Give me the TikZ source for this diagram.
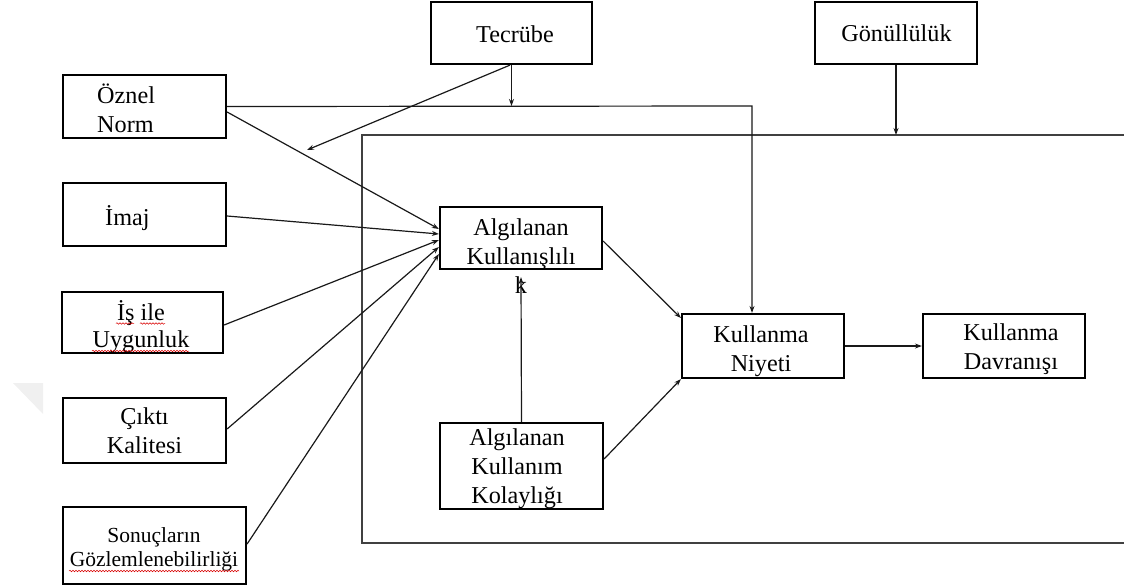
\documentclass[tikz,border=0pt]{standalone}
\usepackage{fontspec}
\setmainfont{Liberation Serif}
\usetikzlibrary{arrows.meta,decorations.pathmorphing}
\newcommand{\mylines}[2][c]{\begin{tabular}[t]{@{}#1@{}}#2\end{tabular}}
\begin{document}
\begin{tikzpicture}[x=1pt,y=-1pt,
  box/.style={draw=black, line width=2.2pt, inner sep=0pt},
  txt/.style={inner sep=0pt, anchor=base, font=\fontsize{24.2}{29}\selectfont},
  smalltxt/.style={inner sep=0pt, anchor=base, font=\fontsize{21.5}{24.5}\selectfont},
  conn/.style={line width=1.2pt, draw=black!90, -{Stealth[length=7pt,width=5pt]}},
  frame/.style={line width=1.5pt, draw=black!75},
  squiggle/.style={draw=red!85!black, line width=0.5pt, decorate, decoration={snake, amplitude=0.8pt, segment length=3pt}}]
\useasboundingbox (0,0) rectangle (1124,587);
% watermark
\fill[gray!12] (13,383) -- (43,383) -- (43,414) -- cycle;
% frame
\coordinate (ftl) at (362,135);
\coordinate (ftr) at (1124,135);
\coordinate (fbl) at (362,543);
\coordinate (fbr) at (1124,543);
\draw[frame] (ftr) -- (ftl) -- (fbl) -- (fbr);
% boxes
\node[box, minimum width=163pt, minimum height=63pt] (oz) at (144.5,106.5) {};
\node[box, minimum width=163pt, minimum height=63pt] (im) at (144.5,214.5) {};
\node[box, minimum width=161pt, minimum height=61pt] (is) at (142.5,322.5) {};
\node[box, minimum width=163pt, minimum height=65pt] (ck) at (144.5,430.5) {};
\node[box, minimum width=183pt, minimum height=77pt] (sg) at (154.5,545.5) {};
\node[box, minimum width=161pt, minimum height=62pt] (tc) at (511.5,33) {};
\node[box, minimum width=162pt, minimum height=62pt] (gn) at (896,33) {};
\node[box, minimum width=162pt, minimum height=62pt] (ak) at (521,238) {};
\node[box, minimum width=163pt, minimum height=86pt] (kk) at (521.5,466) {};
\node[box, minimum width=162pt, minimum height=64pt] (kn) at (763,346) {};
\node[box, minimum width=162pt, minimum height=64pt] (kd) at (1004,346) {};
% texts
\node[txt, anchor=base west] (tOz) at (97,103) {\mylines[l]{Öznel\\Norm}};
\node[txt, anchor=base west] (tIm) at (105,225) {İmaj};
\node[txt, font=\fontsize{24.2}{27.5}\selectfont] (tIs) at (141,320) {\mylines{İş ile\\Uygunluk}};
\node[txt] (tCk) at (144.5,424) {\mylines{Çıktı\\Kalitesi}};
\node[smalltxt] (tSg) at (154,542) {\mylines{Sonuçların\\Gözlemlenebilirliği}};
\node[txt] (tTc) at (515,42) {Tecrübe};
\node[txt] (tGn) at (896.5,41) {Gönüllülük};
\node[txt] (tAk) at (521,235) {\mylines{Algılanan\\Kullanışlılı\\k}};
\node[txt] (tKk) at (517,445) {\mylines{Algılanan\\Kullanım\\Kolaylığı}};
\node[txt] (tKn) at (761,342) {\mylines{Kullanma\\Niyeti}};
\node[txt] (tKd) at (1011,340) {\mylines{Kullanma\\Davranışı}};
% spell-check squiggles
\draw[squiggle] (116,323.5) -- (134,323.5);
\draw[squiggle] (140,323.5) -- (165,323.5);
\draw[squiggle] (92,351) -- (189,351);
\draw[squiggle] (69,571) -- (239,571);
% connectors
\coordinate (ozline) at (752,106);
\coordinate (tcend) at (307,150);
\draw[conn] ([yshift=-5.5pt]oz.east) -- ([yshift=9pt]ak.west);
\draw[conn] ([yshift=-1.5pt]im.east) -- ([yshift=4pt]ak.west);
\draw[conn] ([yshift=-2.5pt]is.east) -- ([yshift=-2pt]ak.west);
\draw[conn] ([yshift=1.5pt]ck.east) -- ([yshift=-9pt]ak.west);
\draw[conn] ([yshift=1.5pt]sg.east) -- ([yshift=-16pt]ak.west);
\draw[conn] ([xshift=-1.5pt]tc.south) -- (tcend);
\draw[conn] (tc.south) -- (tc.south |- ozline);
\draw[conn] (oz.east) -- (ozline) -- (ozline |- kn.north);
\draw[conn] (gn.south) -- (gn.south |- ftl);
\draw[conn] ([yshift=-3pt]ak.east) -- ([yshift=28pt]kn.west);
\draw[conn] ([yshift=7pt]kk.east) -- (kn.south west);
\draw[conn] (kk.north) -- ([yshift=-7pt]ak.south);
\draw[conn] (kn.east) -- (kd.west);
\end{tikzpicture}
\end{document}
